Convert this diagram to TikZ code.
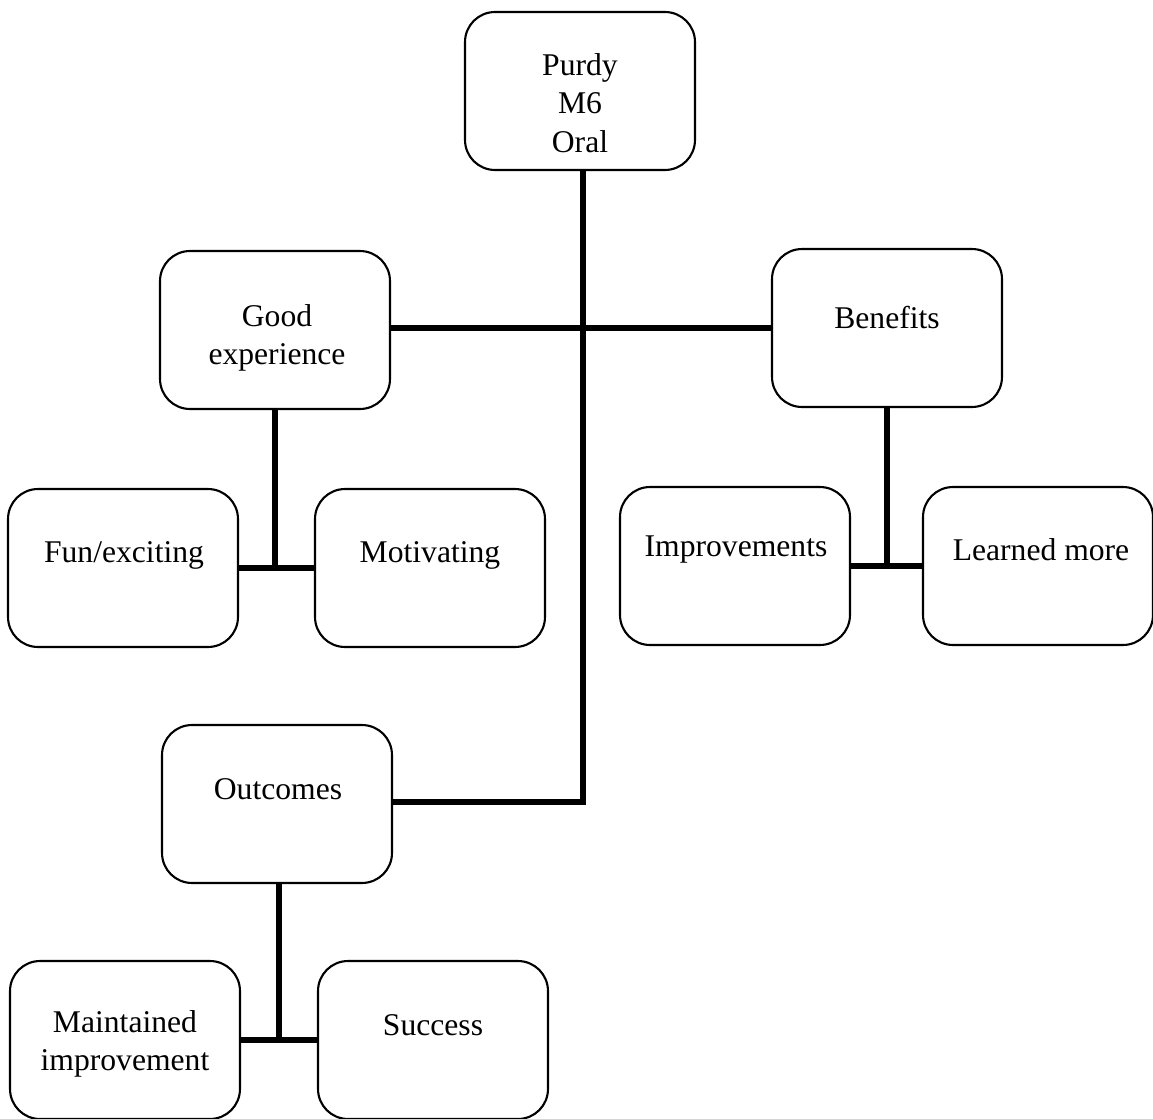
\documentclass[tikz,border=0pt]{standalone}
\usepackage{fontspec}
\setmainfont{Liberation Serif}
\begin{document}
\begin{tikzpicture}[x=0.02cm,y=-0.02cm,
  box/.style={draw=black,line width=1.2pt,rounded corners=0.6cm,minimum width=4.6cm,minimum height=3.16cm,inner sep=0pt},
  lbl/.style={align=center,font=\fontsize{18}{22}\selectfont,inner sep=0pt},
  conn/.style={line width=3.4pt}]
\useasboundingbox (0,0) rectangle (1153,1119);
\node[box] (purdy) at (580,91) {};
\node[box] (good) at (275,330) {};
\node[box] (ben) at (887,328) {};
\node[box] (fun) at (123,568) {};
\node[box] (mot) at (430,568) {};
\node[box] (imp) at (735,566) {};
\node[box] (lea) at (1038,566) {};
\node[box] (out) at (277,804) {};
\node[box] (mai) at (125,1040) {};
\node[box] (suc) at (433,1040) {};
\node[lbl] (tpurdy) at (580,103) {Purdy\\M6\\Oral};
\node[lbl] (tgood) at (277,338) {Good\\experience};
\node[lbl] (tben) at (887,318) {Benefits};
\node[lbl] (tfun) at (124,555) {Fun/exciting};
\node[lbl] (tmot) at (430,555) {Motivating};
\node[lbl] (timp) at (736,550) {Improvements};
\node[lbl] (tlea) at (1041,550) {Learned more};
\node[lbl] (tout) at (278,789) {Outcomes};
\node[lbl] (tmai) at (125,1044) {Maintained\\improvement};
\node[lbl] (tsuc) at (433,1025) {Success};
\coordinate (pj) at (583,802);
\draw[conn] ([xshift=0.06cm]purdy.south) -- (pj) -- (pj -| out.east);
\draw[conn] (ben.west) -- (ben.west -| good.east);
\draw[conn] (good.south) -- (good.south |- fun.east);
\draw[conn] (fun.east) -- (mot.west);
\draw[conn] (ben.south) -- (ben.south |- imp.east);
\draw[conn] (imp.east) -- (lea.west);
\draw[conn] ([xshift=0.04cm]out.south) -- ([xshift=0.04cm]out.south |- mai.east);
\draw[conn] (mai.east) -- (suc.west);
\end{tikzpicture}
\end{document}
